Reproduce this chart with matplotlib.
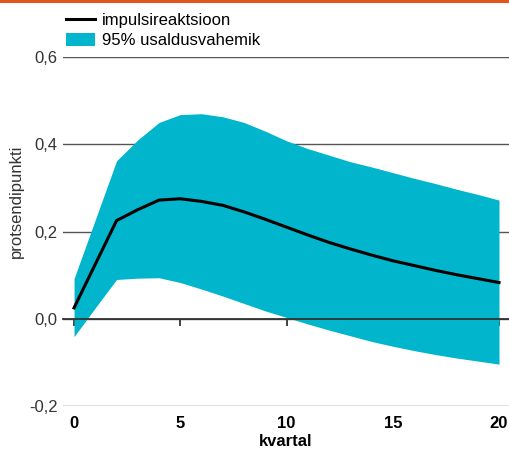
import numpy as np
import matplotlib.pyplot as plt
from matplotlib.lines import Line2D

plt.rcParams['font.family'] = ['Liberation Sans', 'DejaVu Sans']

# quarters after the shock
kvartal = list(range(21))
# impulse response (percentage points)
impulss = [0.025, 0.125, 0.225, 0.250, 0.272, 0.275, 0.269, 0.260, 0.245, 0.228,
           0.210, 0.192, 0.175, 0.160, 0.146, 0.133, 0.122, 0.111, 0.101, 0.092, 0.083]
# 95% confidence band
ylemine = [0.092, 0.227, 0.362, 0.410, 0.450, 0.468, 0.470, 0.463, 0.450, 0.430,
           0.408, 0.390, 0.375, 0.360, 0.348, 0.335, 0.322, 0.310, 0.297, 0.285, 0.272]
alumine = [-0.041, 0.025, 0.090, 0.093, 0.094, 0.083, 0.068, 0.052, 0.035, 0.018,
           0.003, -0.012, -0.026, -0.039, -0.052, -0.063, -0.073, -0.082, -0.090, -0.097, -0.104]

yticks = [-0.2, 0.0, 0.2, 0.4, 0.6]
ytick_labels = ['-0,2', '0,0', '0,2', '0,4', '0,6']
xticks = [0, 5, 10, 15, 20]

teal = '#00B5CC'
fs = 12

fig = plt.figure(figsize=(5.09, 4.49), dpi=100)
ax = fig.add_axes([63 / 509, 1 - 406 / 449, 1 - 63 / 509, (406 - 57) / 449])

ax.fill_between(kvartal, alumine, ylemine, color=teal, lw=0, zorder=1,
                label='95% usaldusvahemik')
ax.plot(kvartal, impulss, color='black', lw=2.2, zorder=3, label='impulsireaktsioon')

ax.set_xlim(-0.52, 20.47)
ax.set_ylim(-0.2, 0.6)
ax.set_yticks(yticks)
ax.set_yticklabels(ytick_labels)
ax.set_xticks(xticks)

for s in ['top', 'right', 'left']:
    ax.spines[s].set_visible(False)
ax.spines['bottom'].set_position(('data', 0))
ax.spines['bottom'].set_color('#333333')
ax.spines['bottom'].set_linewidth(1.3)
ax.spines['bottom'].set_zorder(2.5)

ax.set_axisbelow(True)
ax.grid(axis='y', color='#555555', lw=1.0)

ax.tick_params(axis='y', length=0, pad=4, labelsize=fs, labelcolor='#333333')
ax.tick_params(axis='x', direction='out', length=5, width=1.2, color='#222222',
               pad=65, labelsize=fs)
for t in ax.get_xticklabels():
    t.set_fontweight('bold')

ax.set_xlabel('kvartal', fontweight='bold', fontsize=fs, labelpad=2)
ax.set_ylabel('protsendipunkti', fontsize=fs, color='#333333')
ax.yaxis.set_label_coords(-0.087, 0.587)

handles, labels = ax.get_legend_handles_labels()
order = [1, 0]
fig.legend([handles[i] for i in order], [labels[i] for i in order],
           loc='upper left', bbox_to_anchor=(66 / 509, 1 - 13 / 449),
           frameon=False, fontsize=fs, handlelength=1.75, handleheight=0.8,
           handletextpad=0.4, labelspacing=0.3, borderpad=0, borderaxespad=0)

fig.add_artist(Line2D([0, 1], [1 - 1 / 449, 1 - 1 / 449], transform=fig.transFigure,
                      color='#E0561E', lw=2.2))

fig.savefig('out.png', dpi=100)
